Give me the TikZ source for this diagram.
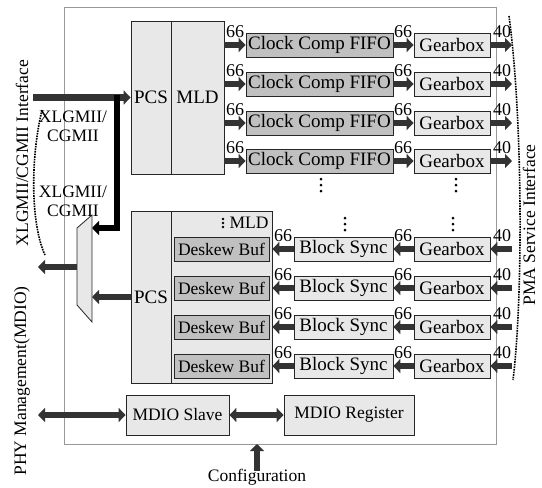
\documentclass[tikz,border=0pt]{standalone}
\usepackage{fontspec}
\setmainfont{Liberation Serif}
\usetikzlibrary{arrows.meta}
\definecolor{lightbox}{HTML}{E8E8E8}
\definecolor{darkfill}{HTML}{C0C0C0}
\definecolor{arrowc}{HTML}{333333}
\definecolor{outerc}{HTML}{999999}
\newcommand\myfs{\fontsize{17.5}{19}\selectfont}
\newcommand\bigfs{\fontsize{19}{21}\selectfont}
\newcommand\midfs{\fontsize{19}{21}\selectfont}
\newcommand\lblfs{\fontsize{18}{20}\selectfont}
\begin{document}
\begin{tikzpicture}[x=1pt,y=-1pt,
  box/.style={draw=black!85, line width=0.8pt, fill=lightbox, inner sep=0pt, minimum height=24pt, font=\myfs},
  darkbox/.style={box, fill=darkfill},
  bus/.style={line width=6.5pt, draw=arrowc, line join=miter, -{Triangle[length=7pt,width=14pt]}},
  dbus/.style={line width=6.5pt, draw=arrowc, {Triangle[length=7pt,width=14pt]}-{Triangle[length=7pt,width=14pt]}},
  lbl/.style={font=\lblfs, inner sep=0pt, anchor=base},
  txt/.style={font=\myfs, inner sep=0pt},
  iface/.style={densely dotted, line width=1.6pt}]
\useasboundingbox (0,0) rectangle (542,488);
\draw[outerc, line width=0.9pt] (64,7) rectangle (496,444);

% upper PCS / MLD
\node[box, font=\bigfs, minimum width=40pt, minimum height=153pt] (pcsU) at (151,97.5) {PCS};
\node[box, font=\bigfs, minimum width=53pt, minimum height=153pt] (mldU) at (197.5,97.5) {MLD};

% lower PCS / MLD
\node[box, font=\bigfs, minimum width=40pt, minimum height=172pt] (pcsL) at (151,297) {PCS};
\node[box, minimum width=101pt, minimum height=172pt] (mldL) at (221.5,297) {};
\foreach \d in {219,223,227} \fill (223,\d) circle (1.3pt);
\node[txt] (mldLt) at (249,223) {MLD};

% upper (transmit) rows
\foreach \i/\y in {1/45,2/84,3/123,4/161} {
  \node[darkbox, font=\bigfs, minimum width=147pt] (fifo\i) at (319.5,\y) {Clock Comp FIFO};
  \node[box, font=\midfs, minimum width=76pt] (gbu\i) at (452,\y) {Gearbox};
  \coordinate (outu\i) at (512,\y);
  \draw[bus] (mldU.east |- fifo\i.west) -- (fifo\i.west);
  \draw[bus] (fifo\i.east) -- (gbu\i.west);
  \draw[bus] (gbu\i.east) -- (outu\i);
  \node[lbl] at (235,\y-8) {66};
  \node[lbl] at (403,\y-8) {66};
  \node[lbl] at (502,\y-8) {40};
}
% lower (receive) rows
\foreach \i/\y in {1/249,2/288,3/327,4/366} {
  \node[darkbox, minimum width=95pt] (desk\i) at (221.5,\y) {Deskew Buf};
  \node[box, font=\midfs, minimum width=99pt] (bs\i) at (343.5,\y) {Block Sync};
  \node[box, font=\midfs, minimum width=76pt] (gbl\i) at (452,\y) {Gearbox};
  \coordinate (inl\i) at (512,\y);
  \draw[bus] (bs\i.west) -- (mldL.east |- bs\i.west);
  \draw[bus] (gbl\i.west) -- (bs\i.east);
  \draw[bus] (inl\i) -- (gbl\i.east);
  \node[lbl] at (283,\y-8) {66};
  \node[lbl] at (403,\y-8) {66};
  \node[lbl] at (502,\y-8) {40};
}
% dots
\foreach \d in {179,185,191} {\fill (321,\d) circle (1.5pt); \fill (456,\d) circle (1.5pt);}
\foreach \d in {218,224,230} {\fill (345,\d) circle (1.5pt); \fill (453,\d) circle (1.5pt);}

% input from XLGMII
\coordinate (xin) at (33,97.5);
\coordinate (branch) at (117,97.5);
\coordinate (muxin1) at (92,228);
\coordinate (muxin2) at (92,297);
\coordinate (muxout) at (77,267);
\coordinate (xout) at (38,267);
\draw[bus] (xin) -- (pcsU.west);
\draw[bus, draw=black] ([yshift=3pt]branch) |- (muxin1);
% mux
\draw[draw=black!85, line width=0.8pt, fill=lightbox] (77,228) -- (92,215) -- (92,322) -- (77,305) -- cycle;
\draw[bus] (pcsL.west) -- (muxin2);
\draw[bus] (muxout) -- (xout);

\node[txt, align=center] (lab1) at (73,126) {XLGMII/\\CGMII};
\node[txt, align=center] (lab2) at (73,201) {XLGMII/\\CGMII};

% MDIO
\node[box, minimum width=103pt, minimum height=40pt] (slave) at (177.5,415) {MDIO Slave};
\node[box, minimum width=130pt, minimum height=40pt] (reg) at (349,415) {MDIO Register};
\coordinate (mdioL) at (38,415);
\draw[dbus] (mdioL) -- (slave.west);
\draw[dbus] (slave.east) -- (reg.west);

% configuration
\node[txt] (cfg) at (257,477) {Configuration};
\coordinate (cfgtop) at (257,444);
\draw[bus] ([yshift=-2pt]cfg.north) -- (cfgtop);

% interfaces
\node[txt, rotate=90] (xlg) at (22,153) {XLGMII/CGMII Interface};
\node[txt, rotate=90] (phy) at (22,381) {PHY Management(MDIO)};
\node[txt, rotate=90] (pma) at (529,225) {PMA Service Interface};
\draw[iface] (42,110) .. controls (30,160) and (31,225) .. (45,255);
\draw[iface] (509,16) .. controls (523,120) and (523,300) .. (513,380);
\end{tikzpicture}
\end{document}
